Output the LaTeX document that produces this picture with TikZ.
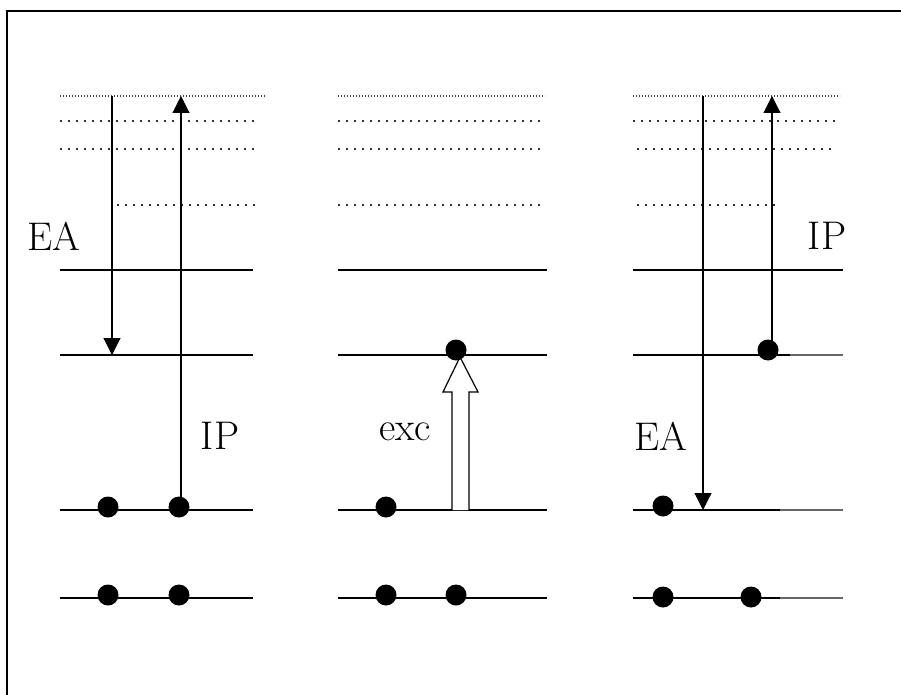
\documentclass[tikz,border=0pt]{standalone}
\usetikzlibrary{arrows.meta}
\begin{document}
\begin{tikzpicture}[x=1pt,y=-1pt,
  level/.style={line width=1.4pt},
  dotlevel/.style={line width=1.6pt,dash pattern=on 1.6pt off 6.4pt,black!80},
  toplevel/.style={line width=1.1pt,dash pattern=on 1.2pt off 1.8pt,black!75},
  trans/.style={line width=1.1pt,-{Triangle[width=17pt,length=17pt]}},
  elec/.style={circle,fill=black,inner sep=0pt,minimum size=21pt},
  lbl/.style={font=\fontsize{40}{48}\selectfont,inner sep=0pt},
  frameline/.style={line width=1.3pt}]
\useasboundingbox (0,0) rectangle (901,695);
% frame
\coordinate (fbl) at (7,695);
\coordinate (ftl) at (7,11);
\coordinate (ftr) at (901,11);
\draw[frameline] (fbl) -- (ftl) -- (ftr);

% ---------- panel 1 ----------
\draw[toplevel] (60,96) -- (266,96);
\draw[dotlevel] (60,121) -- (255,121);
\draw[dotlevel] (60,149) -- (255,149);
\draw[dotlevel] (117,205) -- (255,205);
\draw[level] (60,270) -- (253,270);
\draw[level] (60,355) -- (253,355);
\draw[level] (60,510) -- (253,510);
\draw[level] (60,598) -- (253,598);
\node[elec] (a1) at (108,507) {};
\node[elec] (a2) at (179,507) {};
\node[elec] (a3) at (108,595) {};
\node[elec] (a4) at (179,595) {};
\coordinate (eaS1) at (112,96);
\coordinate (eaE1) at (112,355);
\coordinate (ipE1) at (181,96);
\draw[trans] (eaS1) -- (eaE1);
\draw[trans] (a2.center) ++(2,0) coordinate (ipS1) (ipS1) -- (ipE1);
\node[lbl] (ea1) at (54,236) {EA};
\node[lbl] (ip1) at (220,436) {IP};

% ---------- panel 2 ----------
\draw[toplevel] (338,96) -- (545,96);
\draw[dotlevel] (338,121) -- (540,121);
\draw[dotlevel] (338,149) -- (540,149);
\draw[dotlevel] (338,205) -- (540,205);
\draw[level] (338,270) -- (547,270);
\draw[level] (338,355) -- (547,355);
\draw[level] (338,510) -- (547,510);
\draw[level] (338,598) -- (547,598);
\coordinate (hb1) at (452,510);
\coordinate (hb2) at (469,510);
\coordinate (hs1) at (452,392);
\coordinate (hs2) at (469,392);
\coordinate (hh1) at (443,392);
\coordinate (hh2) at (478,392);
\coordinate (htip) at (460,357);
\draw[line width=1.2pt,fill=white] (hb1) -- (hs1) -- (hh1) -- (htip) -- (hh2) -- (hs2) -- (hb2);
\node[elec] (b0) at (456,350) {};
\node[elec] (b1) at (386,507) {};
\node[elec] (b3) at (386,595) {};
\node[elec] (b4) at (456,595) {};
\node[lbl] (exc) at (405,432) {exc};

% ---------- panel 3 ----------
\draw[toplevel] (633,96) -- (840,96);
\draw[dotlevel] (633,121) -- (835,121);
\draw[dotlevel] (637,149) -- (832,149);
\draw[dotlevel] (637,205) -- (777,205);
\draw[level] (633,270) -- (843,270);
\draw[level] (633,355) -- (790,355);
\draw[line width=1.2pt,black!60] (790,355) -- (843,355);
\draw[level] (633,510) -- (780,510);
\draw[line width=1.2pt,black!60] (780,510) -- (843,510);
\draw[level] (633,598) -- (780,598);
\draw[line width=1.2pt,black!60] (780,598) -- (843,598);
\node[elec] (c0) at (768,350) {};
\node[elec] (c1) at (663,506) {};
\node[elec] (c3) at (663,597) {};
\node[elec] (c4) at (751,597) {};
\coordinate (eaS3) at (703,96);
\coordinate (eaE3) at (703,510);
\coordinate (ipS3) at (772,345);
\coordinate (ipE3) at (772,96);
\draw[trans] (eaS3) -- (eaE3);
\draw[trans] (ipS3) -- (ipE3);
\node[lbl] (ip3) at (827,236) {IP};
\node[lbl] (ea3) at (661,436) {EA};
\end{tikzpicture}
\end{document}
